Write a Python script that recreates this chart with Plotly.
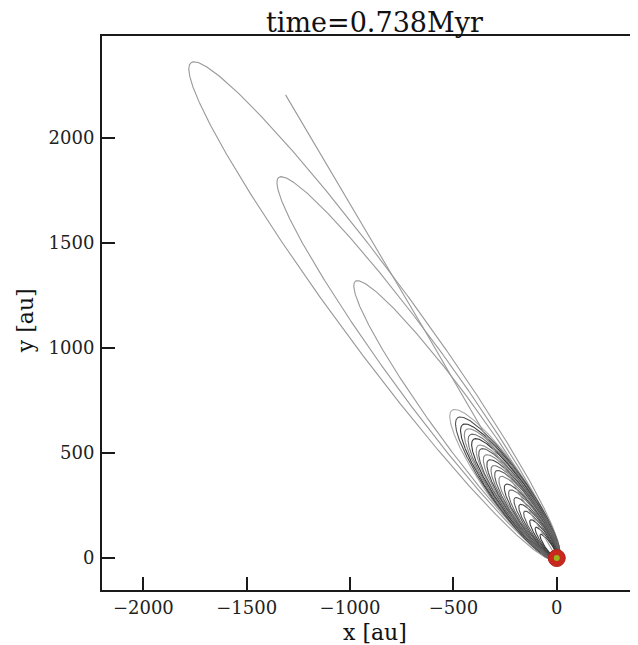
import numpy as np
import plotly.graph_objects as go

# Orbit loops: apocentre distance [au], apocentre direction [deg], semi-minor axis [au]
orbit_apo_dist = [2947, 2256, 1638, 867, 822, 781, 752, 721, 694, 657, 636, 600, 571,
                  537, 508, 474, 429, 395, 351, 311, 272, 222, 178, 138]
orbit_apo_angle = [126.9, 126.6, 126.5, 125.8, 125.7, 125.7, 125.6, 125.6, 125.5, 125.5, 125.5,
                   125.4, 125.4, 125.4, 125.3, 125.3, 125.3, 125.2, 125.2, 125.2, 125.1, 125.1, 125.0, 125.0]
orbit_semi_minor = [172, 135, 108, 92, 88, 84, 81, 78, 75, 71, 69, 65, 62,
                    59, 56, 51, 48, 44, 39, 35, 30, 25, 20, 16]
orbit_colors = ['#999999', '#999999', '#999999', '#aaaaaa', '#555555', '#3a3a3a', '#8a8a8a',
                '#707070', '#333333', '#959595', '#5a5a5a', '#858585', '#4a4a4a', '#757575',
                '#5a5a5a', '#858585', '#4a4a4a', '#6a6a6a', '#5a5a5a', '#4a4a4a', '#5a5a5a',
                '#3a3a3a', '#444444', '#333333']

# Initial infall path (start point, a mid point and end at the central object)
infall_x = [-1312, -640, 0]
infall_y = [2204, 1085, 0]

# Central object
star_x = [0]
star_y = [0]

title_text = "time=0.738Myr"
x_ticks = [-2000, -1500, -1000, -500, 0]
y_ticks = [0, 500, 1000, 1500, 2000]

FONT = "DejaVu Serif"

fig = go.Figure()

E = np.linspace(0, 2 * np.pi, 900)
for Q, ang, b, col in zip(orbit_apo_dist, orbit_apo_angle, orbit_semi_minor, orbit_colors):
    q = b * b / Q
    a = (Q + q) / 2.0
    c = a - q
    th = np.deg2rad(ang)
    u = np.array([np.cos(th), np.sin(th)])
    v = np.array([-np.sin(th), np.cos(th)])
    px = c * u[0] + a * np.cos(E) * u[0] + b * np.sin(E) * v[0]
    py = c * u[1] + a * np.cos(E) * u[1] + b * np.sin(E) * v[1]
    fig.add_trace(go.Scatter(x=px, y=py, mode="lines",
                             line=dict(color=col, width=1.1),
                             hoverinfo="skip", showlegend=False))

fig.add_trace(go.Scatter(x=infall_x, y=infall_y, mode="lines",
                         line=dict(color="#999999", width=1.1),
                         hoverinfo="skip", showlegend=False))

fig.add_trace(go.Scatter(x=star_x, y=star_y, mode="markers",
                         marker=dict(size=17, color="#c8281e",
                                     line=dict(color="#b02018", width=1)),
                         hoverinfo="skip", showlegend=False))
fig.add_trace(go.Scatter(x=star_x, y=star_y, mode="markers",
                         marker=dict(size=6, color="#9ab51a"),
                         hoverinfo="skip", showlegend=False))

axis_common = dict(
    showgrid=False, zeroline=False,
    showline=True, linecolor="#1a1a1a", linewidth=2,
    ticks="inside", ticklen=13, tickwidth=1.5, tickcolor="#1a1a1a",
    tickfont=dict(family=FONT, size=18, color="#222222"),
)

fig.update_xaxes(range=[-2200, 393], tickvals=x_ticks, mirror=True, **axis_common)
fig.update_yaxes(range=[-152, 2484], tickvals=y_ticks, ticklabelstandoff=2, **axis_common)

# page has an 8px body margin, so the figure is sized to fit inside it
fig.update_layout(
    width=630, height=637,
    margin=dict(l=94, r=0, t=28, b=55),
    paper_bgcolor="white", plot_bgcolor="white",
    annotations=[
        dict(text=title_text, xref="paper", yref="paper", x=0.509, y=1.0235,
             xanchor="center", yanchor="middle", showarrow=False,
             font=dict(family=FONT, size=27, color="#111111")),
        dict(text="x [au]", xref="paper", yref="paper", x=0.509, y=-0.0776,
             xanchor="center", yanchor="middle", showarrow=False,
             font=dict(family=FONT, size=22, color="#111111")),
        dict(text="y [au]", xref="paper", yref="paper", x=-0.1437, y=0.487,
             xanchor="center", yanchor="middle", showarrow=False, textangle=-90,
             font=dict(family=FONT, size=22, color="#111111")),
    ],
)

fig.write_html("out.html")
